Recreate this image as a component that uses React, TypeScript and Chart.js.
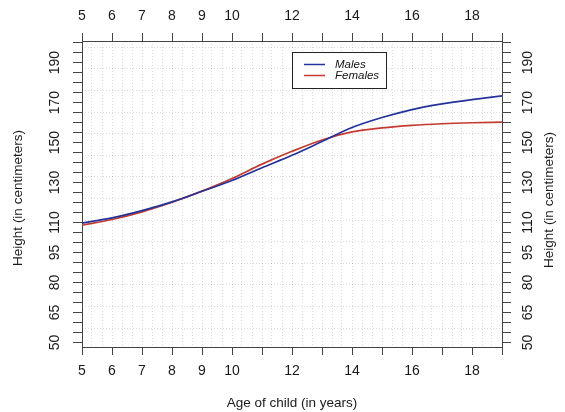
import React, { useEffect, useRef } from "react";
import { Chart, registerables } from "chart.js";

Chart.register(...registerables);

// ---- data ----
const ages = [5, 6, 7, 8, 9, 10, 11, 12, 13, 14, 15, 16, 17, 18, 19];
const males = [109.7, 112.3, 115.9, 120.3, 125.6, 131.0, 137.4, 143.6, 150.5, 157.5, 162.5, 166.5, 169.3, 171.5, 173.3];
const females = [108.6, 111.5, 115.3, 120.1, 125.7, 132.0, 139.2, 145.6, 151.3, 155.3, 157.3, 158.6, 159.4, 159.9, 160.2];
const seriesNames = ["Males", "Females"];
const xTickValues = [5, 6, 7, 8, 9, 10, 11, 12, 13, 14, 15, 16, 17, 18, 19];
const xLabelValues = [5, 6, 7, 8, 9, 10, 12, 14, 16, 18];
const yTickValues = [50, 55, 60, 65, 70, 75, 80, 85, 90, 95, 100, 105, 110, 115, 120, 125, 130, 135, 140, 145, 150, 155, 160, 165, 170, 175, 180, 185, 190, 195, 200];
const yLabelValues = [50, 65, 80, 95, 110, 130, 150, 170, 190];
const xTitle = "Age of child (in years)";
const yTitle = "Height (in centimeters)";

const FONT = "'Liberation Sans', Arial, Helvetica, sans-serif";
const BLUE = "#24329a";
const RED = "#c43b30";
const FRAME = "#444444";
const GRID = "rgba(0,0,0,0.14)";

const X_MIN = 5;
const X_MAX = 19;
const Y_MIN = 47.7;
const Y_MAX = 200.8;

export default function App() {
  const ref = useRef<HTMLCanvasElement | null>(null);

  useEffect(() => {
    const canvas = ref.current;
    if (!canvas) return;

    const overlay = {
      id: "overlay",
      afterDraw(chart: any) {
        const ctx = chart.ctx as CanvasRenderingContext2D;
        const y = chart.scales.y;
        const area = chart.chartArea;
        ctx.save();
        ctx.fillStyle = "#1a1a1a";
        ctx.font = `14px ${FONT}`;
        ctx.textAlign = "center";
        ctx.textBaseline = "middle";
        // rotated y tick labels, both sides
        for (const v of yLabelValues) {
          const py = y.getPixelForValue(v);
          for (const px of [55, 528]) {
            ctx.save();
            ctx.translate(px, py);
            ctx.rotate(-Math.PI / 2);
            ctx.fillText(String(v), 0, 0);
            ctx.restore();
          }
        }
        // titles
        ctx.font = `13.5px ${FONT}`;
        ctx.fillText(xTitle, (area.left + area.right) / 2, 403);
        for (const [px, py] of [[18, 198], [549, 200]]) {
          ctx.save();
          ctx.translate(px, py);
          ctx.rotate(-Math.PI / 2);
          ctx.fillText(yTitle, 0, 0);
          ctx.restore();
        }
        // legend
        const bx = 292, by = 52, bw = 94, bh = 36;
        ctx.fillStyle = "#ffffff";
        ctx.fillRect(bx, by, bw, bh);
        ctx.strokeStyle = "#222222";
        ctx.lineWidth = 1;
        ctx.strokeRect(bx + 0.5, by + 0.5, bw, bh);
        const ds = chart.data.datasets;
        ctx.font = `italic 11.5px ${FONT}`;
        ctx.textAlign = "left";
        ds.forEach((d: any, i: number) => {
          const ly = 64 + i * 11;
          ctx.strokeStyle = d.borderColor;
          ctx.lineWidth = 1.5;
          ctx.beginPath();
          ctx.moveTo(304, ly + 0.5);
          ctx.lineTo(325, ly + 0.5);
          ctx.stroke();
          ctx.fillStyle = "#111111";
          ctx.fillText(d.label, 335, ly + 0.5);
        });
        ctx.restore();
      },
    };

    const tickFont = { family: FONT, size: 14 };

    const mkX = (position: "top" | "bottom", h: number) => ({
      type: "linear" as const,
      position,
      min: X_MIN,
      max: X_MAX,
      afterBuildTicks: (s: any) => {
        s.ticks = xTickValues.map((v) => ({ value: v }));
      },
      afterFit: (s: any) => {
        s.height = h;
      },
      ticks: {
        autoSkip: false,
        maxRotation: 0,
        minRotation: 0,
        padding: 8,
        color: "#1a1a1a",
        font: tickFont,
        callback: (v: any) => (xLabelValues.includes(Number(v)) ? String(v) : ""),
      },
      grid: {
        drawOnChartArea: false,
        drawTicks: true,
        tickLength: 8,
        tickColor: FRAME,
        tickWidth: 1,
        color: FRAME,
      },
      border: { display: true, color: FRAME, width: 1 },
    });

    const mkY = (position: "left" | "right", w: number) => ({
      type: "linear" as const,
      position,
      min: Y_MIN,
      max: Y_MAX,
      afterBuildTicks: (s: any) => {
        s.ticks = yTickValues.map((v) => ({ value: v }));
      },
      afterFit: (s: any) => {
        s.width = w;
      },
      ticks: { display: false },
      grid: {
        drawOnChartArea: false,
        drawTicks: true,
        tickLength: 9,
        tickColor: FRAME,
        tickWidth: 1,
        color: FRAME,
      },
      border: { display: true, color: FRAME, width: 1 },
    });

    const chart = new Chart(canvas, {
      type: "line",
      data: {
        datasets: [
          {
            label: seriesNames[0],
            data: ages.map((a, i) => ({ x: a, y: males[i] })),
            borderColor: BLUE,
            backgroundColor: BLUE,
            borderWidth: 1.7,
            pointRadius: 0,
            cubicInterpolationMode: "monotone",
            xAxisID: "x",
            yAxisID: "y",
          },
          {
            label: seriesNames[1],
            data: ages.map((a, i) => ({ x: a, y: females[i] })),
            borderColor: RED,
            backgroundColor: RED,
            borderWidth: 1.7,
            pointRadius: 0,
            cubicInterpolationMode: "monotone",
            xAxisID: "x",
            yAxisID: "y",
          },
        ],
      },
      options: {
        animation: false,
        responsive: false,
        devicePixelRatio: 1,
        layout: { padding: 0 },
        plugins: { legend: { display: false }, tooltip: { enabled: false } },
        scales: {
          xg: {
            type: "linear",
            position: "bottom",
            min: X_MIN,
            max: X_MAX,
            afterBuildTicks: (s: any) => {
              const t = [];
              for (let k = 0; k <= 42; k++) t.push({ value: X_MIN + k / 3 });
              s.ticks = t;
            },
            afterFit: (s: any) => {
              s.height = 0;
            },
            ticks: { display: false },
            grid: { drawOnChartArea: true, drawTicks: false, color: GRID, lineWidth: 1 },
            border: { display: false, dash: [1, 2] },
          },
          yg: {
            type: "linear",
            position: "left",
            min: Y_MIN,
            max: Y_MAX,
            afterBuildTicks: (s: any) => {
              const t = [];
              for (let k = 0; k < 14; k++) t.push({ value: 57.2 + k * 10.8 });
              s.ticks = t;
            },
            afterFit: (s: any) => {
              s.width = 0;
            },
            ticks: { display: false },
            grid: { drawOnChartArea: true, drawTicks: false, color: GRID, lineWidth: 1 },
            border: { display: false, dash: [1, 2] },
          },
          x: mkX("bottom", 65),
          x2: mkX("top", 41),
          y: mkY("left", 82),
          y2: mkY("right", 63),
        },
      } as any,
      plugins: [overlay],
    });

    return () => chart.destroy();
  }, []);

  return (
    <canvas
      ref={ref}
      width={565}
      height={412}
      style={{ position: "fixed", left: 0, top: 0, width: 565, height: 412, display: "block", background: "#fff" }}
    />
  );
}
